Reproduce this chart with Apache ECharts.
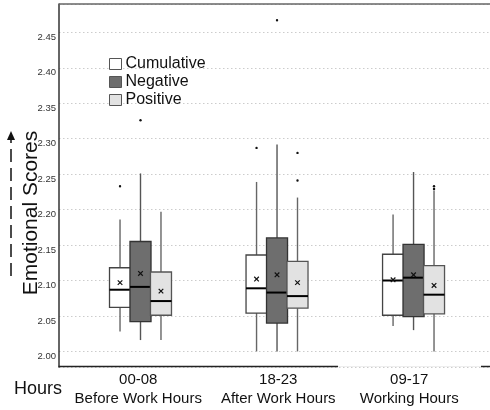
<!DOCTYPE html>
<html>
<head>
<meta charset="utf-8">
<script src="https://cdn.jsdelivr.net/npm/echarts@6/dist/echarts.min.js"></script>
<style>html,body{margin:0;padding:0;background:#fff}#c{width:490px;height:410px}</style>
</head>
<body>
<div id="c"></div>
<script>
// ---- data ----
const hourLabels = ['00-08', '18-23', '09-17'];
const periodLabels = ['Before Work Hours', 'After Work Hours', 'Working Hours'];
const seriesNames = ['Cumulative', 'Negative', 'Positive'];
// [low whisker, Q1, median, Q3, high whisker]
const cumulativeBox = [[2.028, 2.062, 2.087, 2.118, 2.186], [2.000, 2.054, 2.089, 2.136, 2.239], [2.036, 2.051, 2.100, 2.137, 2.193]];
const negativeBox   = [[2.016, 2.042, 2.091, 2.155, 2.251], [2.000, 2.040, 2.083, 2.160, 2.292], [2.030, 2.049, 2.104, 2.151, 2.253]];
const positiveBox   = [[2.016, 2.051, 2.071, 2.112, 2.197], [2.000, 2.061, 2.078, 2.127, 2.217], [2.000, 2.053, 2.080, 2.121, 2.227]];
const cumulativeMean = [2.097, 2.102, 2.101];
const negativeMean   = [2.110, 2.108, 2.108];
const positiveMean   = [2.085, 2.097, 2.093];
const cumulativeOutliers = [[2.233], [2.287], []];
const negativeOutliers   = [[2.326], [2.467], []];
const positiveOutliers   = [[], [2.241, 2.280], [2.229, 2.233]];
const yTickLabels = ['2.00', '2.05', '2.10', '2.15', '2.20', '2.25', '2.30', '2.35', '2.40', '2.45'];

// ---- styles / layout ----
const FONT = "'Liberation Sans', Arial, Helvetica, sans-serif";
const styles = [
  { fill: '#ffffff', stroke: '#444', whisker: '#666' },
  { fill: '#6e6e6e', stroke: '#333', whisker: '#555' },
  { fill: '#e2e2e2', stroke: '#555', whisker: '#666' }
];
const SHIFT = [-0.15, 0, 0.15];
const HALF = 0.077;

const boxes = [cumulativeBox, negativeBox, positiveBox];
const means = [cumulativeMean, negativeMean, positiveMean];
const outs = [cumulativeOutliers, negativeOutliers, positiveOutliers];

function boxRender(k) {
  const st = styles[k];
  return function (params, api) {
    const cat = api.value(0);
    const unit = api.size([1, 0])[0];
    const cx = api.coord([cat, 2])[0] + SHIFT[k] * unit;
    const hw = unit * HALF;
    const y = d => api.coord([cat, api.value(d)])[1];
    const lo = y(1), q1 = y(2), md = y(3), q3 = y(4), hi = y(5), mn = y(6);
    const m = 2.3;
    return {
      type: 'group',
      children: [
        { type: 'line', shape: { x1: cx, y1: hi, x2: cx, y2: q3 }, style: { stroke: st.whisker, lineWidth: 1.4 } },
        { type: 'line', shape: { x1: cx, y1: q1, x2: cx, y2: lo }, style: { stroke: st.whisker, lineWidth: 1.4 } },
        { type: 'rect', shape: { x: cx - hw, y: q3, width: 2 * hw, height: q1 - q3 }, style: { fill: st.fill, stroke: st.stroke, lineWidth: 1.3 } },
        { type: 'line', shape: { x1: cx - hw, y1: md, x2: cx + hw, y2: md }, style: { stroke: '#000', lineWidth: 2 } },
        { type: 'line', shape: { x1: cx - m, y1: mn - m, x2: cx + m, y2: mn + m }, style: { stroke: '#111', lineWidth: 1.2 } },
        { type: 'line', shape: { x1: cx - m, y1: mn + m, x2: cx + m, y2: mn - m }, style: { stroke: '#111', lineWidth: 1.2 } }
      ]
    };
  };
}
function outRender(k) {
  return function (params, api) {
    const cat = api.value(0);
    const unit = api.size([1, 0])[0];
    const p = api.coord([cat, api.value(1)]);
    return { type: 'circle', shape: { cx: p[0] + SHIFT[k] * unit, cy: p[1], r: 1.2 }, style: { fill: '#111' } };
  };
}

const series = [];
for (let k = 0; k < 3; k++) {
  series.push({
    name: seriesNames[k], type: 'custom', xAxisIndex: 0, yAxisIndex: 0,
    itemStyle: { color: styles[k].fill, borderColor: styles[k].stroke },
    renderItem: boxRender(k),
    encode: { x: 0, y: [1, 2, 3, 4, 5, 6] },
    data: boxes[k].map((b, i) => [i + 1].concat(b).concat([means[k][i]]))
  });
}
for (let k = 0; k < 3; k++) {
  const d = [];
  outs[k].forEach((arr, i) => arr.forEach(v => d.push([i + 1, v])));
  series.push({
    name: seriesNames[k] + ' outliers', type: 'custom', xAxisIndex: 0, yAxisIndex: 0,
    renderItem: outRender(k), encode: { x: 0, y: 1 }, data: d
  });
}

const chart = echarts.init(document.getElementById('c'), null, { renderer: 'canvas' });
chart.setOption({
  animation: false,
  backgroundColor: '#fff',
  textStyle: { fontFamily: FONT },
  grid: [
    { left: 59, right: 0, top: 4, bottom: 43 },
    { left: 70.5, right: 13, top: 4, bottom: 43 }
  ],
  xAxis: [
    { type: 'value', gridIndex: 0, min: 0.403, max: 3.56, axisLine: { show: false }, axisTick: { show: false }, axisLabel: { show: false }, splitLine: { show: false } },
    {
      type: 'category', gridIndex: 1, data: hourLabels,
      axisLine: { show: false }, axisTick: { show: false },
      axisLabel: {
        margin: 3, interval: 0,
        formatter: function (v, i) {
          const s = i === 1 ? '2' : '';
          return '{a' + s + '|' + v + '}\n{b' + s + '|' + periodLabels[i] + '}';
        },
        rich: {
          a: { fontSize: 15, lineHeight: 19, color: '#111', fontFamily: FONT },
          b: { fontSize: 15, lineHeight: 19, color: '#111', fontFamily: FONT },
          a2: { fontSize: 15, lineHeight: 19, color: '#111', fontFamily: FONT, padding: [0, 0, 0, 9] },
          b2: { fontSize: 15, lineHeight: 19, color: '#111', fontFamily: FONT, padding: [0, 0, 0, 9] }
        }
      }
    }
  ],
  yAxis: [
    {
      type: 'value', gridIndex: 0, min: 1.978, max: 2.49, splitNumber: 10,
      axisLine: { show: true, lineStyle: { color: '#333', width: 1.5 } },
      axisTick: { show: false },
      axisLabel: {
        margin: 3, fontSize: 9.5, color: '#333', fontFamily: FONT, verticalAlign: 'top',
        showMinLabel: false, showMaxLabel: false,
        formatter: function (v) {
          const s = v.toFixed(2);
          return yTickLabels.indexOf(s) >= 0 ? s : '';
        }
      },
      splitLine: { show: true, lineStyle: { color: '#cccccc', type: [1.5, 2.5], width: 1 } }
    },
    { type: 'value', gridIndex: 1, show: false }
  ],
  legend: {
    orient: 'vertical', left: 104, top: 51, itemGap: 2,
    itemWidth: 12, itemHeight: 11, icon: 'rect',
    textStyle: { fontSize: 16, lineHeight: 16, color: '#111', fontFamily: FONT, padding: [0, 0, 0, -1] },
    data: seriesNames.map((n, k) => ({ name: n, itemStyle: { color: styles[k].fill, borderColor: '#555', borderWidth: 1 } }))
  },
  series: series,
  graphic: [
    { type: 'line', shape: { x1: 59, y1: 4, x2: 490, y2: 4 }, style: { stroke: '#666', lineWidth: 1.5 }, z: 10 },
    { type: 'line', shape: { x1: 58.5, y1: 366.5, x2: 338, y2: 366.5 }, style: { stroke: '#222', lineWidth: 1.5 }, z: 10 },
    { type: 'line', shape: { x1: 338, y1: 366.5, x2: 481, y2: 366.5 }, style: { stroke: '#eeeeee', lineWidth: 1 }, z: 10 },
    { type: 'line', shape: { x1: 481, y1: 366.5, x2: 490, y2: 366.5 }, style: { stroke: '#222', lineWidth: 1.5 }, z: 10 },
    { type: 'text', x: 31, y: 213, rotation: Math.PI / 2, style: { text: 'Emotional Scores', fontSize: 21, fontFamily: FONT, fill: '#111', textAlign: 'center', textVerticalAlign: 'middle' } },
    { type: 'line', shape: { x1: 11, y1: 276, x2: 11, y2: 140 }, style: { stroke: '#111', lineWidth: 1.5, lineDash: [13, 6] } },
    { type: 'polygon', shape: { points: [[7, 140], [15, 140], [11, 131]] }, style: { fill: '#111' } },
    { type: 'text', x: 14, y: 389, style: { text: 'Hours', fontSize: 18, fontFamily: FONT, fill: '#111', textAlign: 'left', textVerticalAlign: 'middle' } }
  ]
});
</script>
</body>
</html>
